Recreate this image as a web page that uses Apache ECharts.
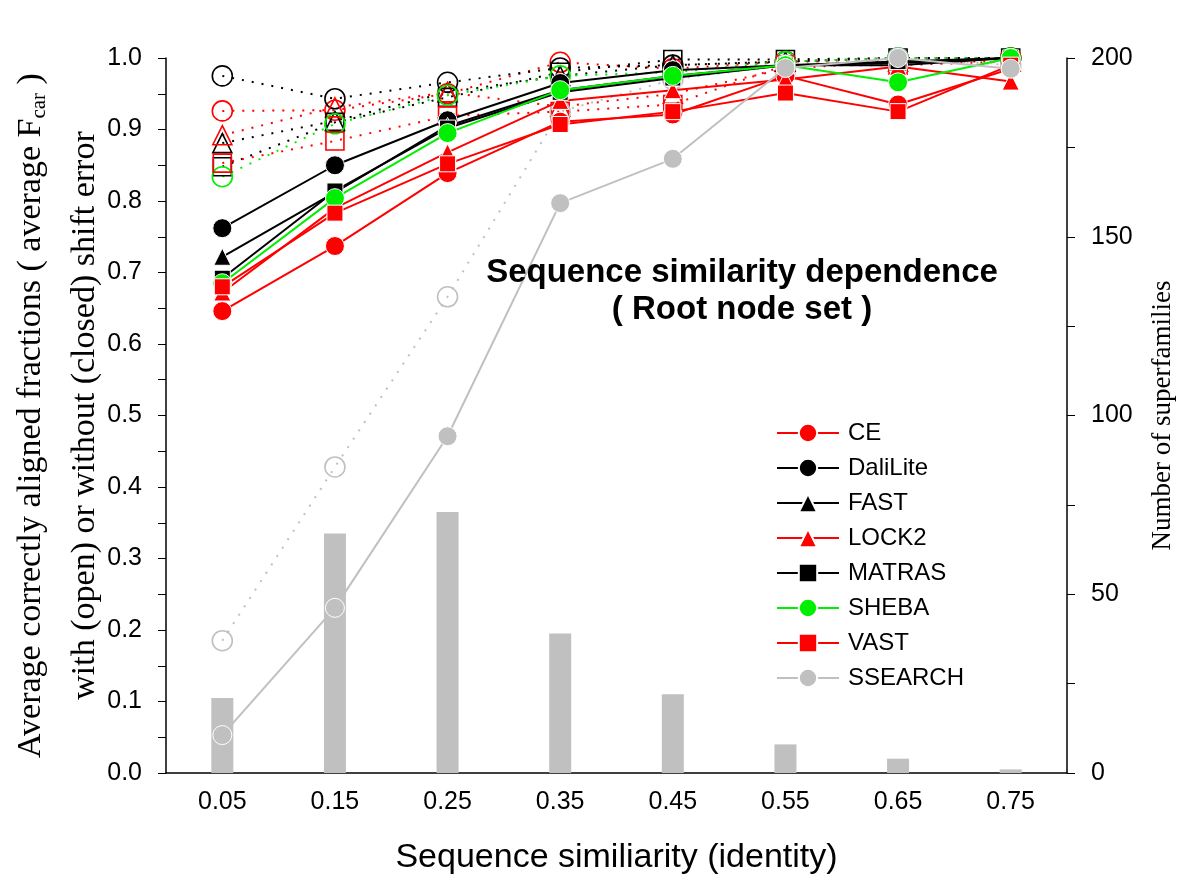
<!DOCTYPE html>
<html>
<head>
<meta charset="utf-8">
<script src="https://cdn.jsdelivr.net/npm/echarts@6/dist/echarts.min.js"></script>
<style>html,body{margin:0;padding:0;background:#fff}#c{width:1200px;height:895px}</style>
</head>
<body>
<div id="c"></div>
<script>
var categories = ['0.05','0.15','0.25','0.35','0.45','0.55','0.65','0.75'];
var leftTicks = ['0.0','0.1','0.2','0.3','0.4','0.5','0.6','0.7','0.8','0.9','1.0'];
var superfamilies = [21, 67, 73, 39, 22, 8, 4, 1];

// closed symbols: without shift error (solid lines)
var ceClosed      = [0.646, 0.737, 0.839, 0.911, 0.921, 0.975, 0.935, 0.985];
var daliClosed    = [0.762, 0.850, 0.913, 0.965, 0.983, 0.990, 0.990, 1.000];
var fastClosed    = [0.722, 0.812, 0.905, 0.955, 0.975, 0.990, 0.993, 1.000];
var lock2Closed   = [0.672, 0.790, 0.868, 0.940, 0.955, 0.970, 0.988, 0.967];
var matrasClosed  = [0.692, 0.814, 0.902, 0.952, 0.972, 0.990, 0.995, 1.000];
var shebaClosed   = [0.685, 0.804, 0.895, 0.955, 0.975, 0.990, 0.966, 1.000];
var vastClosed    = [0.680, 0.783, 0.852, 0.907, 0.925, 0.951, 0.925, 0.990];
var ssearchClosed = [0.053, 0.231, 0.471, 0.797, 0.859, 0.986, 1.000, 0.985];

// open symbols: with shift error (dotted lines)
var ceOpen      = [0.926, 0.927, 0.950, 0.994, 0.985, 0.995, 0.995, 1.000];
var daliOpen    = [0.975, 0.943, 0.966, 0.986, 0.990, 0.995, 1.000, 1.000];
var fastOpen    = [0.881, 0.912, 0.952, 0.975, 0.990, 0.995, 1.000, 1.000];
var lock2Open   = [0.892, 0.931, 0.952, 0.932, 0.950, 0.985, 0.995, 0.995];
var matrasOpen  = [0.848, 0.910, 0.945, 0.980, 0.998, 0.998, 1.000, 1.000];
var shebaOpen   = [0.834, 0.908, 0.948, 0.975, 0.980, 0.995, 1.000, 1.000];
var vastOpen    = [0.853, 0.884, 0.919, 0.925, 0.935, 0.990, 0.990, 0.995];
var ssearchOpen = [0.185, 0.428, 0.666, 0.925, 0.970, 0.990, 1.000, 0.990];

var methods = [
  {name:'CE',       color:'#ff0000', symbol:'circle',   closed:ceClosed,      open:ceOpen},
  {name:'DaliLite', color:'#000000', symbol:'circle',   closed:daliClosed,    open:daliOpen},
  {name:'FAST',     color:'#000000', symbol:'triangle', closed:fastClosed,    open:fastOpen},
  {name:'LOCK2',    color:'#ff0000', symbol:'triangle', closed:lock2Closed,   open:lock2Open},
  {name:'MATRAS',   color:'#000000', symbol:'rect',     closed:matrasClosed,  open:matrasOpen},
  {name:'SHEBA',    color:'#00ee00', symbol:'circle',   closed:shebaClosed,   open:shebaOpen},
  {name:'VAST',     color:'#ff0000', symbol:'rect',     closed:vastClosed,    open:vastOpen},
  {name:'SSEARCH',  color:'#c0c0c0', symbol:'circle',   closed:ssearchClosed, open:ssearchOpen}
];

function symSize(s, open){
  if (s === 'circle') return open ? 20 : 19;
  if (s === 'triangle') return open ? 19 : 17;
  return open ? 18 : 16;
}

var series = [{
  name:'Superfamilies', type:'bar', yAxisIndex:1, data:superfamilies,
  barWidth:22, itemStyle:{color:'#c0c0c0'}, z:1, silent:true
}];
methods.forEach(function(m){
  series.push({
    name:m.name+' (open)', type:'line', data:m.open, symbol:m.symbol,
    symbolSize:symSize(m.symbol,true), z:2,
    lineStyle:{color:m.color, width:2, type:[2,8]},
    itemStyle:{color:'rgba(255,255,255,0)', borderColor:m.color, borderWidth:1.6},
    animation:false
  });
});
methods.forEach(function(m){
  series.push({
    name:m.name, type:'line', data:m.closed, symbol:m.symbol,
    symbolSize:symSize(m.symbol,false), z:(m.name==='SSEARCH'?4:3),
    lineStyle:{color:m.color, width:2},
    itemStyle:{color:m.color, borderColor:'#ffffff', borderWidth:1},
    animation:false
  });
});

var sans = 'Liberation Sans, Arial, sans-serif';
var serif = 'Liberation Serif, Times New Roman, serif';

var chart = echarts.init(document.getElementById('c'), null, {renderer:'canvas'});
chart.setOption({
  animation:false,
  backgroundColor:'#ffffff',
  title:{
    text:'Sequence similarity dependence\n( Root node set )',
    left:737, top:249, textAlign:'center',
    textStyle:{fontFamily:sans, fontWeight:'bold', fontSize:33, lineHeight:37, color:'#000'}
  },
  grid:{left:166, right:133, top:58, bottom:122, outerBoundsMode:'none', containLabel:false},
  legend:{
    orient:'vertical', left:771, top:416, itemGap:11, itemWidth:62, itemHeight:23,
    data:methods.map(function(m){return m.name;}),
    textStyle:{fontFamily:sans, fontSize:24, lineHeight:24, color:'#000', padding:[0,0,0,4]}
  },
  xAxis:{
    type:'category', data:categories, boundaryGap:true,
    axisLine:{lineStyle:{color:'#000', width:1.5}},
    axisTick:{alignWithLabel:true, length:9, lineStyle:{color:'#000'}},
    axisLabel:{fontFamily:sans, fontSize:25, color:'#000', margin:17},
    name:'Sequence similiarity (identity)', nameLocation:'middle', nameGap:68,
    nameTextStyle:{fontFamily:sans, fontSize:34, color:'#000'}
  },
  yAxis:[{
    type:'value', min:0, max:1, interval:0.1, position:'left',
    axisLine:{show:true, lineStyle:{color:'#000', width:1.5}},
    axisTick:{show:true, length:8, lineStyle:{color:'#000'}},
    minorTick:{show:true, splitNumber:2, length:8, lineStyle:{color:'#000'}},
    splitLine:{show:false},
    axisLabel:{fontFamily:sans, fontSize:25, color:'#000', margin:24,
      formatter:function(v){ return leftTicks[Math.round(v*10)]; }},
    name:'{a|Average correctly aligned fractions ( average F}{s|car}{a| )}\n{a|with (open) or without (closed) shift error}',
    nameLocation:'middle', nameRotate:90, nameGap:54, nameMoveOverlap:false,
    nameTextStyle:{
      rich:{
        a:{fontFamily:serif, fontSize:34, color:'#000', lineHeight:54},
        s:{fontFamily:serif, fontSize:21, color:'#000', lineHeight:54, padding:[16,0,0,0]}
      }
    }
  },{
    type:'value', min:0, max:200, interval:50, position:'right',
    axisLine:{show:true, lineStyle:{color:'#000', width:1.5}},
    axisTick:{show:true, length:8, lineStyle:{color:'#000'}},
    minorTick:{show:true, splitNumber:2, length:8, lineStyle:{color:'#000'}},
    splitLine:{show:false},
    axisLabel:{fontFamily:sans, fontSize:25, color:'#000', margin:24},
    name:'Number of superfamilies', nameLocation:'middle', nameRotate:90, nameGap:82,
    nameTextStyle:{fontFamily:serif, fontSize:27, color:'#000'}
  }],
  series:series
});
</script>
</body>
</html>
